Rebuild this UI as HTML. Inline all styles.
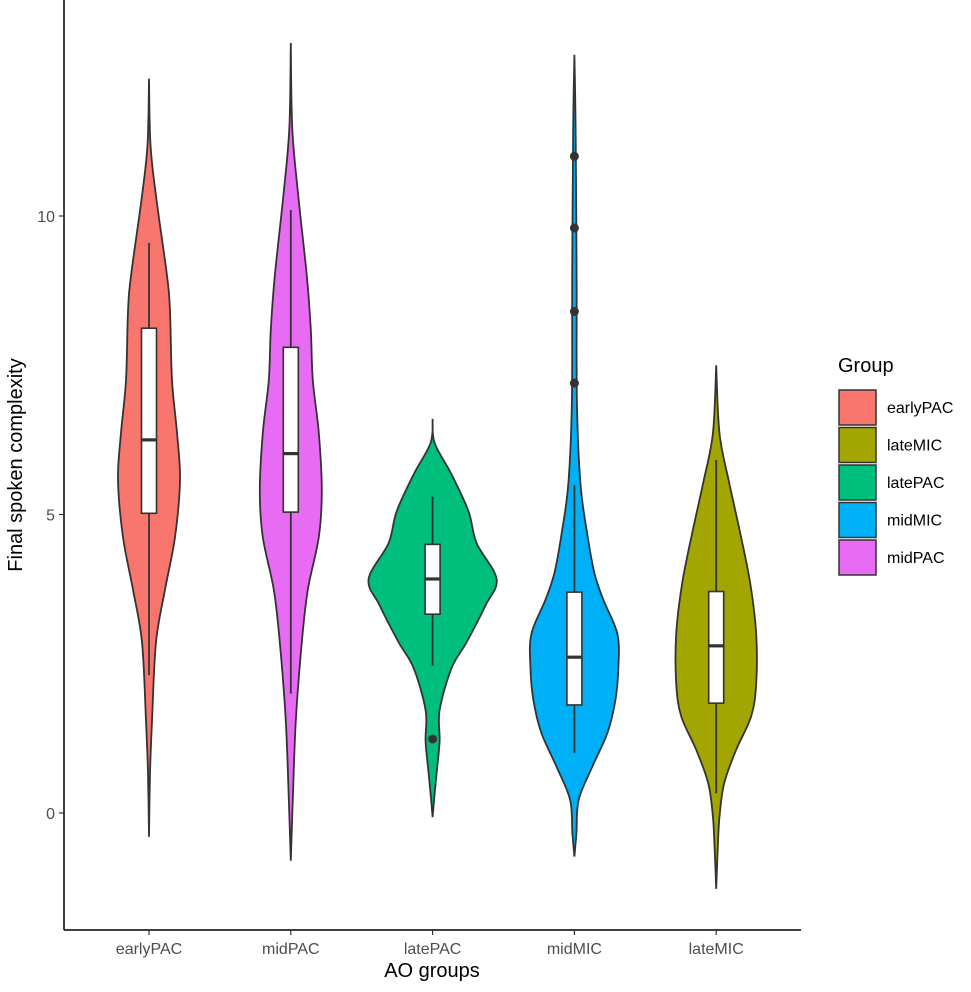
<!DOCTYPE html>
<html><head><meta charset="utf-8"><style>
body{margin:0;background:#fff;}
svg{display:block;font-family:"Liberation Sans",Arial,sans-serif;}
</style></head><body>
<svg id="chart" width="971" height="992">
<g id="plot"></g>
<line x1="64" y1="0" x2="64" y2="930" stroke="#000" stroke-width="1.5"/>
<line x1="64" y1="930" x2="801" y2="930" stroke="#000" stroke-width="1.5"/>
<g id="axes"></g>
<text x="432" y="977" font-size="20" fill="#000" text-anchor="middle">AO groups</text>
<text transform="translate(22,465) rotate(-90)" font-size="20" fill="#000" text-anchor="middle">Final spoken complexity</text>
<g id="legend">
<text x="838" y="372" font-size="20" fill="#000">Group</text>
</g>
</svg>
<script>
const categories=["earlyPAC","midPAC","latePAC","midMIC","lateMIC"];
const colors=["#F8766D","#E76BF3","#00BF7D","#00B0F6","#A3A500"];
const yTicks=[0,5,10];
const legendLabels=["earlyPAC","lateMIC","latePAC","midMIC","midPAC"];
const legendColors=["#F8766D","#A3A500","#00BF7D","#00B0F6","#E76BF3"];
const densV=[
 [-0.4,0.66,1.54,2.86,3.74,4.62,5.58,6.37,7.25,8.4,9.0,10.3,11.19,12.3],
 [-0.8,0.23,1.54,2.86,3.74,4.62,5.4,6.37,7.25,8.1,9.0,10.3,11.46,12.9],
 [-0.07,0.23,0.67,1.2,1.72,2.43,2.86,3.48,3.92,4.52,5.05,5.67,6.2,6.6],
 [-0.73,-0.34,0.22,0.78,1.34,1.89,2.45,3.0,3.57,4.02,4.69,5.53,6.9,9,11.5,12.7],
 [-1.27,-0.62,-0.06,0.5,1.06,1.62,2.17,3.0,3.85,4.69,5.53,6.36,7.5]
];
const densW=[
 [0,1,3,7,16,26,31,28,23,21,18,7.3,1.5,0],
 [0,2,5,11,17,28,31,28,22,20,16,7.7,1.5,0],
 [0,1.5,4,7,7,19,34,53,64,44,36,19,2,0],
 [0,2,4.3,18,33,41,44,43,29,20,12.7,6,2.5,2.2,1.2,0],
 [0,1.5,3.3,8,20,35,40,40,34,24,13,3.3,0]
];
const q1=[5.02,5.04,3.33,1.81,1.84];
const med=[6.25,6.02,3.92,2.61,2.8];
const q3=[8.12,7.8,4.5,3.7,3.71];
const whLo=[2.31,2.0,2.47,1.01,0.33];
const whHi=[9.55,10.1,5.3,5.49,5.91];
const outV=[[],[],[1.24],[7.2,8.4,9.8,11.0],[]];

const NS="http://www.w3.org/2000/svg";
const yS=v=>813-59.7*v;
const xS=i=>149+141.8*i;
function mk(t,a,p){const e=document.createElementNS(NS,t);for(const k in a)e.setAttribute(k,a[k]);p.appendChild(e);return e;}
function smooth(pts){let d="M"+pts[0][0]+","+pts[0][1];
 for(let i=0;i<pts.length-1;i++){const p0=pts[Math.max(0,i-1)],p1=pts[i],p2=pts[i+1],p3=pts[Math.min(pts.length-1,i+2)];
  d+=" C"+(p1[0]+(p2[0]-p0[0])/6)+","+(p1[1]+(p2[1]-p0[1])/6)+" "+(p2[0]-(p3[0]-p1[0])/6)+","+(p2[1]-(p3[1]-p1[1])/6)+" "+p2[0]+","+p2[1];}
 return d;}
const plot=document.getElementById("plot");
categories.forEach((c,i)=>{
 const cx=xS(i);
 const g=mk("g",{},plot);
 
 
 const R=densV[i].map((v,j)=>[cx+densW[i][j],yS(v)]);
 const L=densV[i].map((v,j)=>[cx-densW[i][j],yS(v)]).reverse();
 const d=smooth(R)+" L"+smooth(L).slice(1)+" Z";
 const vp=mk("path",{d:d,fill:colors[i],stroke:"#333",'stroke-width':1.8},g);
 
 
 const wl=mk("line",{x1:cx,x2:cx,y1:yS(whHi[i]),y2:yS(whLo[i]),stroke:"#333",'stroke-width':1.8},g);
 
 
 const bx=mk("rect",{x:cx-7.5,width:15,y:yS(q3[i]),height:yS(q1[i])-yS(q3[i]),fill:"#fff",stroke:"#333",'stroke-width':1.6},g);
 
 
 const ml=mk("line",{x1:cx-7.5,x2:cx+7.5,y1:yS(med[i]),y2:yS(med[i]),stroke:"#333",'stroke-width':3.2},g);
 
 
 outV[i].forEach(v=>{const o=mk("circle",{cx:cx,cy:yS(v),r:4.5,fill:"#333"},g);
  
  });
});
const ax=document.getElementById("axes");
yTicks.forEach(t=>{
 const l=mk("line",{x1:59,x2:64,y1:yS(t),y2:yS(t),stroke:"#333",'stroke-width':1.2},ax);
 
 
 const tx=mk("text",{x:55,y:yS(t)+6,'font-size':16,fill:"#4d4d4d",'text-anchor':"end"},ax);
 tx.textContent=t;
 
 
});
categories.forEach((c,i)=>{
 const l=mk("line",{x1:xS(i),x2:xS(i),y1:930,y2:935,stroke:"#333",'stroke-width':1.2},ax);
 
 
 const tx=mk("text",{x:xS(i),y:954,'font-size':16,fill:"#4d4d4d",'text-anchor':"middle"},ax);
 tx.textContent=c;
 
 
});
const lg=document.getElementById("legend");
legendLabels.forEach((c,i)=>{
 const y=390+37.5*i;
 const r=mk("rect",{x:839,y:y,width:37,height:35,fill:legendColors[i],stroke:"#333",'stroke-width':1.5},lg);
 
 
 const t=mk("text",{x:887,y:y+23,'font-size':16,fill:"#000"},lg);
 t.textContent=c;
 
 
});
</script>
</body></html>
